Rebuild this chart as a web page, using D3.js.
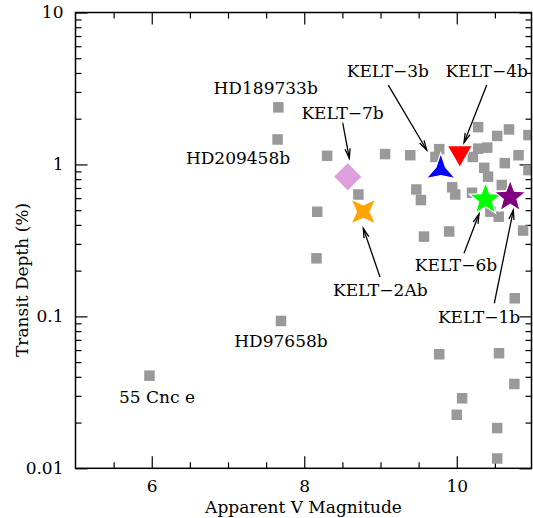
<!DOCTYPE html>
<html>
<head>
<meta charset="utf-8">
<script src="https://cdn.jsdelivr.net/npm/d3@7"></script>
<style>
  body { margin: 0; background: #fff; }
  svg text { font-family: "DejaVu Serif", serif; font-size: 17px; fill: #000; }
</style>
</head>
<body>
<script>
// known transiting planets (grey squares)
var vmag = [7.66, 7.65, 8.30, 9.06, 9.39, 8.71, 8.17, 8.16, 7.695, 5.97,
  9.47, 9.53, 9.57, 9.90, 10.28, 10.53, 10.685, 10.94, 9.77, 9.72,
  10.28, 10.40, 10.21, 10.81, 10.63, 10.36, 10.41, 9.94, 9.98, 10.20,
  10.59, 10.94, 10.55, 10.44, 10.87, 10.76, 9.77, 10.554, 10.755, 10.07,
  10.0, 10.53, 10.53];
var depth = [2.375, 1.46, 1.14, 1.17, 1.15, 0.634, 0.488, 0.241, 0.0933, 0.0407,
  0.684, 0.583, 0.335, 0.362, 1.76, 1.54, 1.70, 1.56, 1.26, 1.12,
  1.27, 1.29, 1.12, 1.15, 1.02, 0.95, 0.83, 0.707, 0.634, 0.651,
  0.732, 0.918, 0.453, 0.489, 0.367, 0.1315, 0.0563, 0.0572, 0.0359, 0.0289,
  0.0225, 0.0184, 0.0116];

// KELT planets
var keltNames = ["KELT-7b", "KELT-2Ab", "KELT-3b", "KELT-4b", "KELT-6b", "KELT-1b"];
var keltMag = [8.57, 8.774, 9.79, 10.04, 10.377, 10.70];
var keltDepth = [0.830, 0.489, 0.919, 1.19, 0.588, 0.610];
var keltColor = ["plum", "orange", "blue", "red", "lime", "purple"];
var keltShape = ["diamond", "star4", "star3", "trianglev", "star5", "star5"];

// labels: text, x (mag), y (depth)
var labelText = ["HD189733b", "KELT\u22127b", "HD209458b", "KELT\u22123b", "KELT\u22124b",
  "KELT\u22122Ab", "KELT\u22126b", "KELT\u22121b", "HD97658b", "55 Cnc e"];
var labelMag = [7.494, 8.502, 7.131, 9.096, 10.393, 8.997, 9.990, 10.292, 7.695, 6.069];
var labelDepth = [2.905, 1.990, 1.006, 3.758, 3.758, 0.1362, 0.200, 0.0905, 0.0629, 0.0271];

// arrows: start (mag, depth) -> tip (mag, depth)
var arrowFrom = [[8.504, 1.881], [9.102, 3.33], [10.393, 3.33], [8.993, 0.1816], [10.095, 0.260], [10.492, 0.122]];
var arrowTo = [[8.591, 1.097], [9.606, 1.244], [10.095, 1.389], [8.774, 0.380], [10.292, 0.472], [10.742, 0.501]];

var xTicks = [6, 8, 10];
var yTicks = [0.01, 0.1, 1, 10];

var width = 533, height = 518;
var font = "DejaVu Serif";

var x = d3.scaleLinear().domain([5, 10.98]).range([75.5, 531.5]);
var y = d3.scaleLog().domain([0.01, 10]).range([468.3, 12.5]);

var svg = d3.select("body").append("svg")
  .attr("width", width).attr("height", height);

// minor ticks
var xMinor = d3.range(5.5, 11, 0.5).filter(function(v) { return v % 2 != 0; });
var yMinor = [];
[0.01, 0.1, 1].forEach(function(d) {
  for (var k = 2; k <= 9; k++) yMinor.push(d * k);
});

function axisG(axis, tx, ty) {
  var g = svg.append("g").attr("transform", "translate(" + tx + "," + ty + ")").call(axis);
  g.attr("font-family", font).attr("font-size", 17);
  g.select(".domain").remove();
  g.selectAll("line").attr("stroke", "#000").attr("stroke-width", 1.2);
  g.selectAll("text").attr("fill", "#000");
  return g;
}

axisG(d3.axisBottom(x).tickValues(xTicks).tickSizeInner(-12).tickSizeOuter(0).tickPadding(12).tickFormat(d3.format("d")), 0, y(0.01));
axisG(d3.axisBottom(x).tickValues(xMinor).tickSizeInner(-6).tickSizeOuter(0).tickFormat(""), 0, y(0.01));
axisG(d3.axisTop(x).tickValues(xTicks).tickSizeInner(-12).tickSizeOuter(0).tickFormat(""), 0, y(10));
axisG(d3.axisTop(x).tickValues(xMinor).tickSizeInner(-6).tickSizeOuter(0).tickFormat(""), 0, y(10));
axisG(d3.axisLeft(y).tickValues(yTicks).tickSizeInner(-12).tickSizeOuter(0).tickPadding(12).tickFormat(function(d) { return String(d); }), x(5), 0);
axisG(d3.axisLeft(y).tickValues(yMinor).tickSizeInner(-6).tickSizeOuter(0).tickFormat(""), x(5), 0);
axisG(d3.axisRight(y).tickValues(yTicks).tickSizeInner(-12).tickSizeOuter(0).tickFormat(""), x(10.98), 0);
axisG(d3.axisRight(y).tickValues(yMinor).tickSizeInner(-6).tickSizeOuter(0).tickFormat(""), x(10.98), 0);

// clip region for the plot
svg.append("clipPath").attr("id", "clip").append("rect")
  .attr("x", x(5)).attr("y", y(10))
  .attr("width", x(10.98) - x(5)).attr("height", y(0.01) - y(10));

var plot = svg.append("g").attr("clip-path", "url(#clip)");

var sq = 10.5;
plot.selectAll("rect.pl")
  .data(d3.range(vmag.length))
  .enter().append("rect")
  .attr("class", "pl")
  .attr("x", function(i) { return x(vmag[i]) - sq / 2; })
  .attr("y", function(i) { return y(depth[i]) - sq / 2; })
  .attr("width", sq).attr("height", sq)
  .attr("fill", "#999");

// marker shapes
function starPath(n, rOut, rIn, rot) {
  var pts = d3.range(n * 2).map(function(i) {
    var r = i % 2 ? rIn : rOut;
    var a = rot + i * Math.PI / n;
    return [r * Math.sin(a), -r * Math.cos(a)];
  });
  return d3.line()(pts) + "Z";
}
var shapes = {
  diamond: starPath(2, 14.5, 14.5, 0),
  star4: starPath(4, 17.5, 6.8, Math.PI / 4),
  star3: starPath(3, 17, 5.5, 0),
  trianglev: starPath(3, 14.5, 7.25, Math.PI),
  star5: starPath(5, 17, 7.2, 0)
};

plot.selectAll("path.kelt")
  .data(d3.range(keltNames.length))
  .enter().append("path")
  .attr("class", "kelt")
  .attr("transform", function(i) { return "translate(" + x(keltMag[i]) + "," + y(keltDepth[i]) + ")"; })
  .attr("d", function(i) { return shapes[keltShape[i]]; })
  .attr("fill", function(i) { return keltColor[i]; })
  .attr("stroke", "#fff").attr("stroke-width", 1.2);

// arrows
var arrows = svg.append("g").attr("stroke", "#000").attr("stroke-width", 1.3).attr("fill", "none");
arrowFrom.forEach(function(f, i) {
  var x1 = x(f[0]), y1 = y(f[1]), x2 = x(arrowTo[i][0]), y2 = y(arrowTo[i][1]);
  arrows.append("line").attr("x1", x1).attr("y1", y1).attr("x2", x2).attr("y2", y2);
  var ang = Math.atan2(y2 - y1, x2 - x1), L = 10, h = 0.26;
  var p = [[x2 - L * Math.cos(ang - h), y2 - L * Math.sin(ang - h)], [x2, y2],
           [x2 - L * Math.cos(ang + h), y2 - L * Math.sin(ang + h)]];
  arrows.append("path").attr("d", d3.line()(p)).attr("stroke-linejoin", "miter");
});

// labels
svg.selectAll("text.lab")
  .data(d3.range(labelText.length))
  .enter().append("text")
  .attr("class", "lab")
  .attr("font-family", font).attr("font-size", 17)
  .attr("x", function(i) { return x(labelMag[i]); })
  .attr("y", function(i) { return y(labelDepth[i]); })
  .attr("text-anchor", "middle")
  .text(function(i) { return labelText[i]; });

// frame
svg.append("rect")
  .attr("x", x(5)).attr("y", y(10))
  .attr("width", x(10.98) - x(5)).attr("height", y(0.01) - y(10))
  .attr("fill", "none").attr("stroke", "#000").attr("stroke-width", 1.5);

// axis titles
svg.append("text")
  .attr("font-family", font).attr("font-size", 17)
  .attr("x", (x(5) + x(10.98)) / 2).attr("y", 513)
  .attr("text-anchor", "middle")
  .text("Apparent V Magnitude");
svg.append("text")
  .attr("font-family", font).attr("font-size", 17)
  .attr("transform", "translate(28,280) rotate(-90)")
  .attr("text-anchor", "middle")
  .text("Transit Depth (%)");
</script>
</body>
</html>
